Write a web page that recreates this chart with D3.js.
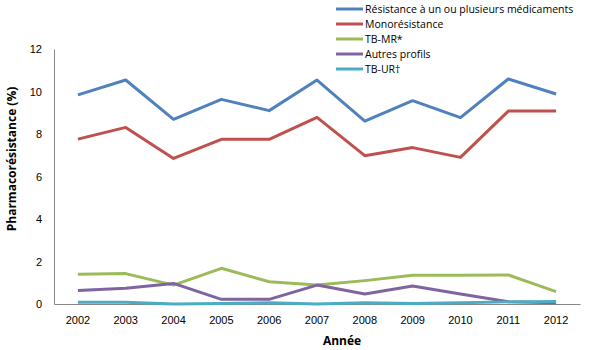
<!DOCTYPE html>
<html>
<head>
<meta charset="utf-8">
<script src="https://cdn.jsdelivr.net/npm/d3@7"></script>
<style>
  html, body { margin: 0; padding: 0; background: #fff; }
  svg { display: block; font-family: "Open Sans", "Liberation Sans", sans-serif; }
</style>
</head>
<body>
<svg id="chart" width="600" height="350"></svg>
<script>
// Years on the category axis
const years = ["2002","2003","2004","2005","2006","2007","2008","2009","2010","2011","2012"];

// Drug-resistance rates (%) per year, one array per profile
const multiResistance = [9.84, 10.54, 8.69, 9.63, 9.10, 10.54, 8.61, 9.57, 8.77, 10.59, 9.88];
const monoResistance  = [7.76, 8.31, 6.85, 7.75, 7.75, 8.78, 6.98, 7.36, 6.90, 9.08, 9.08];
const tbMR            = [1.40, 1.43, 0.89, 1.68, 1.05, 0.89, 1.10, 1.35, 1.35, 1.37, 0.58];
const otherProfiles   = [0.64, 0.74, 0.97, 0.22, 0.22, 0.89, 0.47, 0.85, 0.47, 0.11, 0.06];
const tbUR            = [0.08, 0.08, 0.00, 0.02, 0.06, 0.00, 0.06, 0.02, 0.06, 0.10, 0.12];

const seriesNames  = ["Résistance à un ou plusieurs médicaments", "Monorésistance", "TB-MR*", "Autres profils", "TB-UR†"];
const seriesColors = ["#4F81BD", "#C0504D", "#9BBB59", "#8064A2", "#4BACC6"];
const yTicks = [0, 2, 4, 6, 8, 10, 12];

const series = [multiResistance, monoResistance, tbMR, otherProfiles, tbUR].map((values, i) => ({
  name: seriesNames[i], color: seriesColors[i], values
}));

const svg = d3.select("#chart");
const plot = { left: 54, right: 580, top: 49, bottom: 304 };

const x = d3.scaleBand().domain(years).range([plot.left, plot.right]);
const y = d3.scaleLinear().domain([0, 12]).range([plot.bottom, plot.top]);
const cx = d => x(d) + x.bandwidth() / 2;

// Value axis
const yAxis = svg.append("g")
  .attr("transform", `translate(${plot.left},0)`)
  .call(d3.axisLeft(y).tickValues(yTicks).tickSize(0).tickPadding(12));
yAxis.select(".domain").attr("stroke", "#868686");
yAxis.selectAll("text").attr("font-size", 11).attr("fill", "#000");

// Category axis
const xAxis = svg.append("g")
  .attr("transform", `translate(0,${plot.bottom})`)
  .call(d3.axisBottom(x).tickSize(0).tickPadding(12));
xAxis.select(".domain").attr("stroke", "#868686");
xAxis.selectAll("text").attr("font-size", 11).attr("fill", "#000");

// Axis titles
svg.append("text")
  .attr("x", 342).attr("y", 345)
  .attr("text-anchor", "middle")
  .attr("font-size", 12).attr("font-weight", "bold")
  .text("Année");

svg.append("text")
  .attr("transform", "translate(16,159) rotate(-90)")
  .attr("text-anchor", "middle")
  .attr("font-size", 12).attr("font-weight", "bold")
  .text("Pharmacorésistance (%)");

// Lines
const line = d3.line()
  .x((d, i) => cx(years[i]))
  .y(d => y(d));

svg.append("g").selectAll("path")
  .data(series)
  .join("path")
  .attr("d", d => line(d.values))
  .attr("fill", "none")
  .attr("stroke", d => d.color)
  .attr("stroke-width", 3)
  .attr("stroke-linejoin", "round");

// Legend
const legend = svg.append("g").selectAll("g")
  .data(series)
  .join("g")
  .attr("transform", (d, i) => `translate(336,${9 + i * 15})`);

legend.append("line")
  .attr("x1", 0).attr("x2", 27)
  .attr("stroke", d => d.color)
  .attr("stroke-width", 3);

legend.append("text")
  .attr("x", 29).attr("dy", "0.35em")
  .attr("font-size", 10.5)
  .attr("fill", "#000")
  .text(d => d.name);
</script>
</body>
</html>
